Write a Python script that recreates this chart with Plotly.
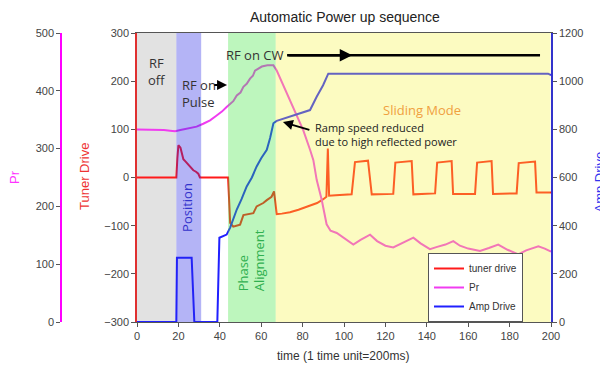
import plotly.graph_objects as go

# ---------------- data ----------------
tuner_x = [0, 19, 19.5, 20, 21, 22.4, 23.5, 24.8, 26, 27.2, 28.5, 29.6, 30.4, 31, 44,
           45, 46.5, 48, 49.8, 51.4, 54, 56.2, 57.8, 61, 62.7, 64, 65, 66.2, 67.5, 70,
           73.9, 78, 83, 87, 90, 91.5, 92.2, 92.8, 96, 103.7, 105.3, 111.6, 113.4,
           123.8, 124.8, 132.7, 133.5, 144, 145, 152, 152.7, 163.3, 164.3, 171.3, 172,
           183.4, 184.4, 192.3, 193, 200]
tuner_y = [0, 0, 40, 67, 62, 38, 33, 26, 22, 15, 12, 8, 0, 0, 0,
           -94, -102, -100, -98, -78, -76, -74, -60, -53, -47, -44, -40, -29, -76, -75,
           -72, -67, -60, -53, -45, -40, 60, -38, -37, -35, 32, 35, -35,
           -34, 31, 34, -35, -33, 31, 34, -34, -34, 31, 34, -34,
           -33, 30, 33, -31, -31]

pr_x = [0, 5, 10, 13, 16, 18.4, 21, 24, 28.8, 32, 35.3, 38, 41, 43.3, 45, 46.5, 48.2,
        50, 51.4, 53, 54.6, 56, 57, 58.5, 60.3, 63, 65.9, 67.5, 70.7, 75.5, 80.3, 83.6,
        85.2, 86.8, 89.2, 91.6, 93.5, 96.5, 100, 104.5, 108, 112.6, 116, 120, 123.8,
        128, 133.5, 137, 141.5, 145, 149, 152.8, 156, 160, 165.7, 170, 174.5, 179,
        184.2, 188, 193.9, 197, 200]
pr_y = [333, 333, 333, 332, 331, 330, 332, 334, 338, 343, 349, 356, 364, 372, 378, 382, 392,
        397, 407, 412, 421, 426, 435, 438, 442, 444, 444, 435, 410, 372, 332, 298,
        280, 246, 212, 169, 158, 154, 145, 134, 142, 151, 140, 132, 129,
        136, 146, 136, 126, 130, 134, 140, 132, 127, 123, 128, 134, 125,
        117, 124, 131, 127, 122]

amp_x = [0, 19, 19.3, 26.4, 27.7, 38.8, 39.8, 41, 43.3, 45, 48.2, 50.5, 53, 55.5, 57.8,
         60, 62.7, 64.3, 65.9, 67.5, 73.9, 78, 83.6, 86.8, 89.9, 92.4, 150, 198.6, 200]
amp_y = [0, 0, 267, 267, 0, 0, 350, 355, 363, 392, 467, 510, 563, 600, 646,
         680, 715, 764, 825, 835, 852, 865, 880, 935, 983, 1031, 1031, 1031, 1025]

x_ticks = list(range(0, 201, 20))
tuner_ticks = list(range(-300, 301, 100))
pr_ticks = list(range(0, 501, 100))
amp_ticks = list(range(0, 1201, 200))

# phase bands (x start, x end)
bands = [(0, 19), (19, 31), (44, 67), (67, 200)]

FONT = "Liberation Sans"
TICKF = dict(family=FONT, size=11, color="#444444")

# the page adds an 8px body margin, so the figure is laid out 8px smaller
W, H = 600, 366


def px(sx):  # screen x -> paper x
    return (sx - 8) / W


def py(sy):  # screen y -> paper y (plot spans screen 33..322)
    return (322 - sy) / 289


fig = go.Figure()
fig.add_trace(go.Scatter(x=tuner_x, y=tuner_y, mode="lines", name="tuner drive",
                         line=dict(color="#ff1a1a", width=2), yaxis="y"))
fig.add_trace(go.Scatter(x=pr_x, y=pr_y, mode="lines", name="Pr",
                         line=dict(color="#f03cf0", width=2), yaxis="y2"))
fig.add_trace(go.Scatter(x=amp_x, y=amp_y, mode="lines", name="Amp Drive",
                         line=dict(color="#2020ff", width=2), yaxis="y3"))

# bands
fig.add_shape(type="rect", xref="x", yref="paper", x0=bands[0][0], x1=bands[0][1], y0=0, y1=1,
              fillcolor="#e2e2e2", line_width=0, layer="below")
fig.add_shape(type="rect", xref="x", yref="paper", x0=bands[1][0], x1=bands[1][1], y0=0, y1=1,
              fillcolor="rgb(41,41,229)", opacity=0.35, line_width=0, layer="above")
fig.add_shape(type="rect", xref="x", yref="paper", x0=bands[2][0], x1=bands[2][1], y0=0, y1=1,
              fillcolor="rgb(66,229,66)", opacity=0.35, line_width=0, layer="above")
fig.add_shape(type="rect", xref="x", yref="paper", x0=bands[3][0], x1=bands[3][1] - 0.3, y0=0, y1=1,
              fillcolor="rgb(246,244,61)", opacity=0.32, line_width=0, layer="above")

# long CW arrow line
fig.add_shape(type="line", xref="x", yref="y", x0=72.5, x1=194.7, y0=254, y1=254,
              line=dict(color="black", width=2.5), layer="above")

ann = []
TXT = dict(family="Open Sans", size=13, color="#333333")
ann.append(dict(x=9.7, y=221, xref="x", yref="y", text="RF<br>off", showarrow=False,
                font=TXT, align="center"))
ann.append(dict(x=20.8, y=175, xref="x", yref="y", text="RF on<br>Pulse", showarrow=False,
                font=TXT, align="left", xanchor="left"))
ann.append(dict(x=43.5, y=192, ax=36.6, ay=192, xref="x", yref="y", axref="x", ayref="y",
                text="", showarrow=True, arrowhead=2, arrowsize=1, arrowwidth=2, arrowcolor="black"))
ann.append(dict(x=57, y=254, xref="x", yref="y", text="RF on CW", showarrow=False, font=TXT))
ann.append(dict(x=104, y=254, ax=72.5, ay=254, xref="x", yref="y", axref="x", ayref="y",
                text="", showarrow=True, arrowhead=2, arrowsize=1, arrowwidth=2.5, arrowcolor="black"))
ann.append(dict(x=137.7, y=140, xref="x", yref="y", text="Sliding Mode", showarrow=False,
                font=dict(family="Open Sans", size=13, color="#f0a040")))
ann.append(dict(x=85, y=90, xref="x", yref="y", text="Ramp speed reduced<br>due to high reflected power",
                showarrow=False, xanchor="left", align="left",
                font=dict(family="Open Sans", size=11, color="#222222")))
ann.append(dict(x=70.5, y=115, ax=84, ay=98, xref="x", yref="y", axref="x", ayref="y",
                text="", showarrow=True, arrowhead=2, arrowsize=1, arrowwidth=2, arrowcolor="black"))
ann.append(dict(x=24.2, y=-63, xref="x", yref="y", text="Position", showarrow=False, textangle=-90,
                font=dict(family="Open Sans", size=13, color="#3333cc")))
ann.append(dict(x=55.3, y=-171, xref="x", yref="y", text="Phase<br>Alignment", showarrow=False,
                textangle=-90, align="left",
                font=dict(family="Open Sans", size=13, color="#30b050")))
# titles
PA = dict(xref="paper", yref="paper", showarrow=False, xanchor="center", yanchor="middle")
ann.append(dict(x=px(345), y=py(17), text="Automatic Power up sequence",
                font=dict(family=FONT, size=14, color="#222222"), **PA))
ann.append(dict(x=px(343), y=py(356), text="time (1 time unit=200ms)",
                font=dict(family=FONT, size=12, color="#333333"), **PA))
ann.append(dict(x=px(14), y=py(177), text="Pr", textangle=-90,
                font=dict(family=FONT, size=13, color="#ff33ff"), **PA))
ann.append(dict(x=px(84), y=py(177), text="Tuner Drive", textangle=-90,
                font=dict(family=FONT, size=13, color="#ee3333"), **PA))
ann.append(dict(x=1.0, y=py(182), text="Amp Drive", textangle=-90, xref="paper", yref="paper",
                showarrow=False, xanchor="right", yanchor="middle",
                font=dict(family=FONT, size=13, color="#3333ee")))

fig.update_layout(
    width=W, height=H,
    margin=dict(l=0, r=0, t=25, b=52, autoexpand=False),
    paper_bgcolor="white", plot_bgcolor="white",
    showlegend=True,
    legend=dict(x=px(428), y=0, xanchor="left", yanchor="bottom",
                bgcolor="white", bordercolor="#555555", borderwidth=1,
                font=dict(family=FONT, size=10, color="#333333"),
                tracegroupgap=0, itemwidth=30),
    annotations=ann,
    xaxis=dict(domain=[px(137), px(551)], range=[0, 200], tickvals=x_ticks,
               showline=True, linecolor="#555555", linewidth=1, mirror=True,
               ticks="outside", ticklen=4, tickcolor="#555555", tickfont=TICKF,
               showgrid=False, zeroline=False, automargin=False),
    yaxis=dict(range=[-300, 300], tickvals=tuner_ticks, showline=True, linecolor="#e03030",
               linewidth=1.5, ticks="outside", ticklen=4, tickcolor="#555555", tickfont=TICKF,
               showgrid=False, zeroline=False, automargin=False),
    yaxis2=dict(range=[0, 500], tickvals=pr_ticks, overlaying="y", side="left", anchor="free",
                position=px(61), showline=True, linecolor="#ff00ff", linewidth=1.5,
                ticks="outside", ticklen=4, tickcolor="#555555", tickfont=TICKF,
                showgrid=False, zeroline=False, automargin=False),
    yaxis3=dict(range=[0, 1200], tickvals=amp_ticks, overlaying="y", side="right", anchor="x",
                showline=True, linecolor="#3333cc", linewidth=1.5,
                ticks="outside", ticklen=4, tickcolor="#555555", tickfont=TICKF,
                showgrid=False, zeroline=False, automargin=False),
)

fig.write_html("out.html")
